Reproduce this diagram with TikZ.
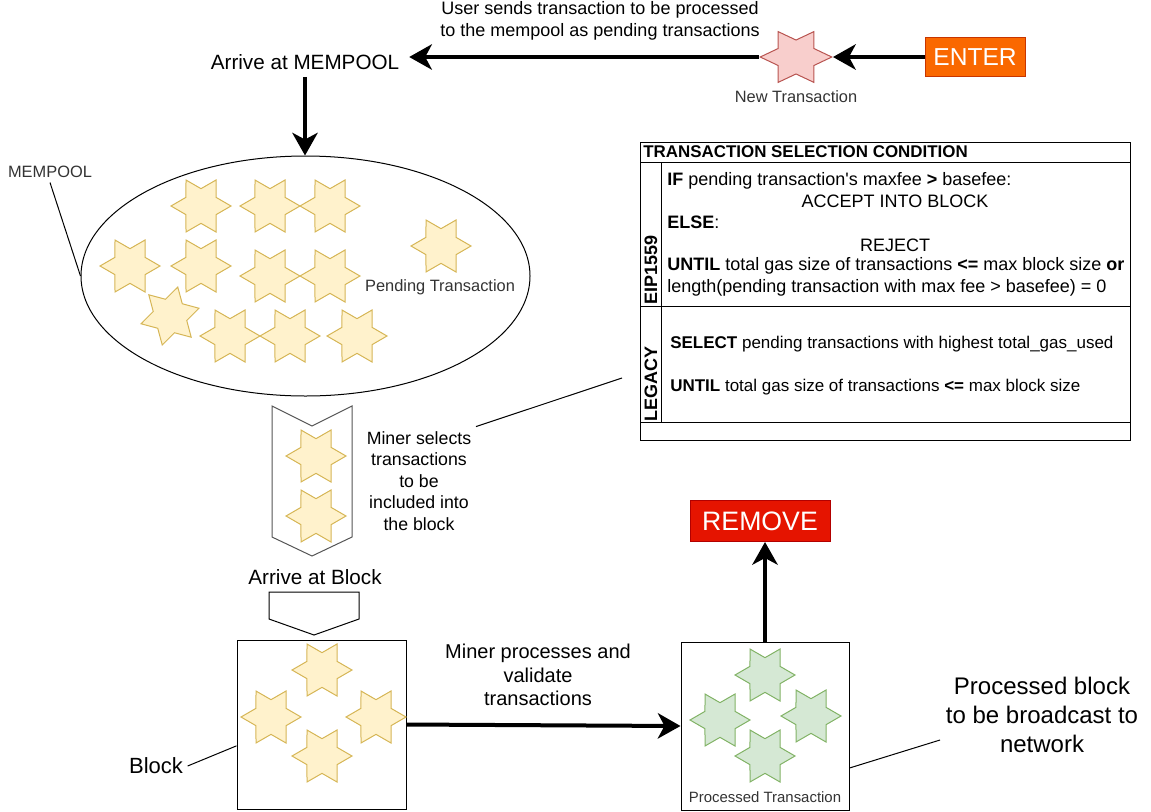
\documentclass[tikz,border=0pt]{standalone}
\usepackage{fontspec}
\setmainfont{Liberation Sans}
\usetikzlibrary{shapes.geometric, arrows.meta, positioning}
\definecolor{starfill}{HTML}{FFF2CC}
\definecolor{starline}{HTML}{D6B656}
\definecolor{newfill}{HTML}{F8CECC}
\definecolor{newline}{HTML}{B85450}
\definecolor{donefill}{HTML}{D5E8D4}
\definecolor{doneline}{HTML}{82B366}
\definecolor{enterorange}{HTML}{FA6800}
\definecolor{enterline}{HTML}{C73500}
\definecolor{removered}{HTML}{E51400}
\definecolor{removeline}{HTML}{B20000}
\definecolor{labelgray}{HTML}{333333}
\definecolor{chevgray}{HTML}{555555}

\tikzset{
  txstar/.style={star, star points=6, star point ratio=1.73, shape border rotate=30,
    inner sep=0pt, minimum size=45pt, draw=starline, fill=starfill, line width=0.75pt},
  newstar/.style={txstar, draw=newline, fill=newfill},
  donestar/.style={txstar, draw=doneline, fill=donefill},
  bigarrow/.style={line width=3pt, -{Stealth[length=17pt, width=19pt, inset=5pt]}},
  thinline/.style={line width=0.75pt},
  tagbox/.style={draw, line width=0.75pt, text=white, inner sep=0pt},
  tabletext/.style={font=\fontsize{13.5}{16}\selectfont, anchor=west, inner sep=0pt},
  legacytext/.style={tabletext, font=\fontsize{12.75}{15}\selectfont},
  graylabel/.style={text=labelgray, font=\fontsize{12.3}{14}\selectfont},
}

\begin{document}
\begin{tikzpicture}[x=0.75pt, y=-0.75pt]
    \useasboundingbox (0,0) rectangle (1151,811);

    % Entering the mempool
    \node[tagbox, fill=enterorange, draw=enterline, minimum width=75pt, minimum height=29.25pt,
      font=\fontsize{18.4}{20}\selectfont] (enter) at (975,57) {ENTER};
    \begin{scope}[shift={(796,57)}, xscale=1.22]
        \node[newstar, transform shape, minimum size=44pt] (newtx) at (0,0) {};
    \end{scope}
    \node[graylabel] (newlbl) at (796,97) {New Transaction};
    \node[font=\fontsize{15.5}{18}\selectfont] (arrivemp) at (305,62) {Arrive at MEMPOOL};
    \node[align=center, font=\fontsize{13.5}{16.5}\selectfont] (sendlbl) at (600,21)
        {User sends transaction to be processed\\to the mempool as pending transactions};
    \draw[bigarrow] (enter.west) -- (newtx.east);
    \draw[bigarrow] (newtx.west) -- ([xshift=4pt]arrivemp.east |- newtx.west);

    % Mempool
    \node[draw, thinline, ellipse, inner sep=0pt, minimum width=336.75pt, minimum height=180pt] (mempool) at (305.5,276) {};
    \draw[bigarrow] ([yshift=-2pt]arrivemp.south) -- (arrivemp.south |- mempool.north);
    \node[graylabel] (mempoollbl) at (50,172) {MEMPOOL};
    \draw[thinline] (mempoollbl.south) -- (mempool.west);
    \foreach \x/\y [count=\i] in {201/206, 270/206, 330/206, 130/266, 201/266, 270/276,
        330/276, 441/246, 230/336, 290/336, 357/336}
        \node[txstar] (pend\i) at (\x,\y) {};
    \node[txstar, rotate=15] (pendtilt) at (170,316) {};
    \node[graylabel] (pendlbl) at (440,287) {Pending Transaction};

    % Selection chevron
    \draw[chevgray, thinline] (272,406) -- (312,426) -- (352,406) -- (352,537)
        -- (312,556) -- (272,537) -- cycle;
    \node[txstar] (pick1) at (316,456) {};
    \node[txstar] (pick2) at (316,516) {};
    \node[align=center, font=\fontsize{13.3}{16.2}\selectfont] (selectlbl) at (419,481)
        {Miner selects\\ transactions\\to be\\included into\\ the block};
    \coordinate (legacytip) at (622,378);
    \draw[thinline] (selectlbl.north east) -- (legacytip);
    \node[font=\fontsize{15.5}{18}\selectfont] (arriveblk) at (315,577) {Arrive at Block};
    \draw[thinline] (269,592) -- (359,592) -- (359,619) -- (314,635) -- (269,619) -- cycle;

    % Selection condition table
    \draw[thinline] (640,142) rectangle (1130,440);
    \draw[thinline] (640,162) -- (1130,162);
    \draw[thinline] (661,162) -- (661,422);
    \draw[thinline] (640,306) -- (1130,306);
    \draw[thinline] (640,422) -- (1130,422);
    \node[tabletext, font=\fontsize{12.7}{15}\selectfont\bfseries] (cond) at (643,152) {TRANSACTION SELECTION CONDITION};
    \node[rotate=90, font=\fontsize{13.5}{16}\selectfont\bfseries] (eiplbl) at (651,270) {EIP1559};
    \node[rotate=90, font=\fontsize{13.5}{16}\selectfont\bfseries] (legacylbl) at (651,384) {LEGACY};
    \node[tabletext] (eip1) at (667,181) {\textbf{IF} pending transaction\textquotesingle s maxfee \textbf{>} basefee:};
    \node[tabletext, anchor=center] (eip2) at (895,201) {ACCEPT INTO BLOCK};
    \node[tabletext] (eip3) at (667,222) {\textbf{ELSE}:};
    \node[tabletext, anchor=center] (eip4) at (895,245) {REJECT};
    \node[tabletext] (eip5) at (667,266) {\textbf{UNTIL} total gas size of transactions \textbf{<=} max block size \textbf{or}};
    \node[tabletext] (eip6) at (667,288) {length(pending transaction with max fee > basefee) = 0};
    \node[legacytext] (leg1) at (670,344) {\textbf{SELECT} pending transactions with highest total\_gas\_used};
    \node[legacytext] (leg2) at (670,387) {\textbf{UNTIL} total gas size of transactions \textbf{<=} max block size};

    % Block
    \node[draw, thinline, minimum width=126.75pt, minimum height=126.75pt] (block) at (321.5,724.5) {};
    \foreach \x/\y [count=\i] in {322/670, 271/717, 376/717, 322/756}
        \node[txstar] (blk\i) at (\x,\y) {};
    \node[font=\fontsize{16.5}{19}\selectfont] (blocklbl) at (156,766) {Block};
    \draw[thinline] (blocklbl.east) -- ([yshift=-16pt]block.west);

    % Processing
    \node[draw, thinline, minimum width=126pt, minimum height=126pt] (done) at (765,726) {};
    \foreach \x/\y [count=\i] in {765/675, 720/720, 811/716, 765/756}
        \node[donestar] (fin\i) at (\x,\y) {};
    \node[graylabel, font=\fontsize{11.2}{13}\selectfont] (donelbl) at (765,797) {Processed Transaction};
    \draw[bigarrow] (block.east) -- (done.west);
    \node[align=center, font=\fontsize{15}{17.5}\selectfont] (minelbl) at (538,675)
        {Miner processes and\\validate\\transactions};
    \node[tagbox, fill=removered, draw=removeline, minimum width=105pt, minimum height=30.75pt,
      font=\fontsize{20}{22}\selectfont] (remove) at (760,521) {REMOVE};
    \draw[bigarrow] (done.north) -- (done.north |- remove.south);
    \node[align=center, font=\fontsize{18}{21.5}\selectfont] (broadlbl) at (1042,715)
        {Processed block\\to be broadcast to\\network};
    \coordinate (broadtip) at (940,740);
    \draw[thinline] ([yshift=-31.5pt]done.east) -- (broadtip);
\end{tikzpicture}
\end{document}
